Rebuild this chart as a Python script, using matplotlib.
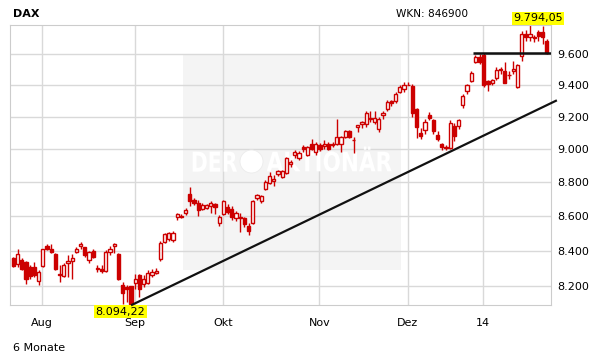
import numpy as np
import matplotlib
matplotlib.use('Agg')
import matplotlib.pyplot as plt
from matplotlib.patches import Rectangle, Ellipse, PathPatch
from matplotlib.textpath import TextPath
from matplotlib.font_manager import FontProperties
from matplotlib.transforms import Affine2D

# DAX daily candles, 6 months (trading days Jul 23 2013 .. Jan 23 2014)
opens = [8356, 8327, 8350, 8337, 8305, 8305, 8230, 8314, 8429, 8413,
         8384, 8271, 8256, 8330, 8340, 8394, 8427, 8419, 8346, 8400,
         8299, 8299, 8286, 8394, 8427, 8381, 8206, 8196, 8200, 8218,
         8262, 8212, 8220, 8262, 8276, 8352, 8450, 8465, 8461, 8598,
         8600, 8618, 8732, 8694, 8680, 8645, 8650, 8660, 8671, 8563,
         8614, 8652, 8645, 8588, 8598, 8588, 8543, 8562, 8705, 8688,
         8760, 8797, 8810, 8849, 8830, 8857, 8910, 8968, 8950, 9015,
         8965, 9030, 8982, 9027, 9020, 9031, 9028, 9035, 9035, 9076,
         9110, 9060, 9140, 9155, 9155, 9193, 9167, 9128, 9210, 9253,
         9298, 9300, 9357, 9375, 9405, 9394, 9250, 9098, 9117, 9215,
         9180, 9090, 9032, 9015, 9006, 9142, 9142, 9273, 9365, 9428,
         9551, 9585, 9594, 9428, 9415, 9447, 9496, 9490, 9467, 9490,
         9390, 9587, 9731, 9714, 9712, 9745, 9745, 9685]
highs = [8362, 8413, 8356, 8344, 8318, 8335, 8290, 8413, 8436, 8436,
         8390, 8318, 8330, 8375, 8381, 8421, 8452, 8421, 8400, 8409,
         8318, 8318, 8404, 8427, 8444, 8386, 8225, 8206, 8200, 8271,
         8271, 8262, 8290, 8296, 8300, 8455, 8500, 8510, 8512, 8616,
         8610, 8648, 8770, 8706, 8698, 8677, 8672, 8688, 8677, 8605,
         8694, 8670, 8660, 8630, 8618, 8598, 8558, 8694, 8730, 8726,
         8815, 8860, 8843, 8873, 8873, 8955, 8933, 8994, 8990, 9025,
         9020, 9064, 9045, 9040, 9060, 9045, 9045, 9190, 9080, 9118,
         9118, 9078, 9150, 9175, 9240, 9240, 9240, 9200, 9240, 9305,
         9305, 9355, 9400, 9420, 9420, 9406, 9255, 9130, 9190, 9230,
         9190, 9115, 9040, 9025, 9183, 9160, 9190, 9345, 9410, 9490,
         9594, 9600, 9607, 9432, 9440, 9520, 9520, 9552, 9490, 9560,
         9540, 9755, 9758, 9794.05, 9730, 9758, 9790, 9700]
lows = [8305, 8308, 8293, 8215, 8240, 8250, 8206, 8308, 8404, 8386,
        8293, 8224, 8250, 8252, 8238, 8386, 8413, 8364, 8329, 8358,
        8281, 8273, 8281, 8375, 8386, 8232, 8104, 8112, 8094.22, 8187,
        8142, 8195, 8210, 8250, 8268, 8340, 8444, 8455, 8452, 8577,
        8590, 8606, 8660, 8665, 8603, 8636, 8640, 8618, 8612, 8545,
        8606, 8612, 8577, 8571, 8508, 8535, 8490, 8555, 8694, 8680,
        8753, 8790, 8780, 8837, 8825, 8850, 8893, 8950, 8935, 8985,
        8960, 8994, 8965, 8990, 9005, 8994, 9015, 9025, 8985, 9070,
        9070, 8978, 9105, 9130, 9140, 9170, 9155, 9105, 9190, 9240,
        9270, 9290, 9350, 9360, 9400, 9200, 9070, 9065, 9093, 9180,
        9093, 9050, 8994, 8994, 9000, 9050, 9125, 9255, 9345, 9420,
        9545, 9540, 9390, 9365, 9405, 9432, 9470, 9413, 9440, 9475,
        9385, 9560, 9690, 9690, 9680, 9690, 9670, 9600]
closes = [8312, 8381, 8298, 8243, 8256, 8262, 8277, 8409, 8409, 8394,
          8298, 8262, 8318, 8342, 8356, 8413, 8438, 8375, 8394, 8366,
          8301, 8286, 8394, 8413, 8436, 8243, 8160, 8187, 8104, 8243,
          8182, 8240, 8275, 8280, 8284, 8446, 8495, 8500, 8505, 8610,
          8595, 8636, 8690, 8675, 8636, 8665, 8665, 8677, 8656, 8595,
          8690, 8626, 8596, 8620, 8588, 8552, 8514, 8688, 8724, 8720,
          8803, 8837, 8818, 8867, 8867, 8945, 8925, 8984, 8978, 9005,
          9015, 9005, 9031, 9005, 9030, 9005, 9033, 9075, 9075, 9110,
          9076, 9056, 9148, 9170, 9225, 9190, 9194, 9190, 9222, 9295,
          9285, 9345, 9390, 9405, 9403, 9222, 9140, 9080, 9167, 9192,
          9110, 9066, 9015, 9006, 9160, 9080, 9180, 9330, 9400, 9480,
          9582, 9552, 9400, 9406, 9432, 9500, 9506, 9417, 9464, 9506,
          9529, 9731, 9714, 9731, 9705, 9718, 9714, 9610]

month_labels = ['Aug', 'Sep', 'Okt', 'Nov', 'Dez', '14']
month_days = [7, 22, 21, 23, 21, 18, 16]   # trading days: Jul (part), Aug .. Jan
y_ticks = [8200, 8400, 8600, 8800, 9000, 9200, 9400, 9600]
resistance = 9610
trend_end = (129.4, 9305)

RED = '#cc0000'
GRID = '#d9d9d9'
W, H = 611, 364


def de_num(v, dec=0):
    s = f"{v:,.{dec}f}"
    return s.replace(',', 'X').replace('.', ',').replace('X', '.')


fig = plt.figure(figsize=(W / 100, H / 100), dpi=100)
ax = fig.add_axes([10.3 / W, 1 - 305.3 / H, 540.4 / W, 280.3 / H])

o = np.array(opens, float)
h = np.array(highs, float)
l = np.array(lows, float)
c = np.array(closes, float)
x = np.arange(len(o))
lo_i, hi_i = int(np.argmin(l)), int(np.argmax(h))

ax.set_yscale('log')
ax.set_ylim(l.min(), h.max())
ax.set_xlim(-0.74, len(o) - 0.07)

# grid
for yt in y_ticks:
    ax.axhline(yt, color=GRID, lw=1, zorder=1)
starts = np.cumsum(month_days)[:-1] - 0.15
for xs in starts:
    ax.axvline(xs, color=GRID, lw=1, zorder=1)

# watermark box + logo text
ax.add_patch(Rectangle((0.3196, 0.126), 0.403, 0.77, transform=ax.transAxes,
                       facecolor='#f4f4f4', edgecolor='none', zorder=0.8))


def fit_text(s, x0, x1, y0, y1):
    tp = TextPath((0, 0), s, size=10, prop=FontProperties(family='DejaVu Sans', weight='bold'))
    bb = tp.get_extents()
    tr = (Affine2D().translate(-bb.x0, -bb.y0)
          .scale((x1 - x0) / bb.width / W, (y1 - y0) / bb.height / H)
          .translate(x0 / W, 1 - y1 / H) + fig.transFigure)
    ax.add_patch(PathPatch(tp, transform=tr, facecolor='white', edgecolor='none', zorder=1.5))


fit_text('DER', 192.7, 237, 151.7, 171.7)
fit_text('AKTIONÄR', 266.7, 391.7, 146.5, 171.7)
ax.add_patch(Ellipse((251.5 / W, 1 - 161.5 / H), 23 / W, 23 / H, transform=fig.transFigure,
                     facecolor='white', edgecolor='#ececec', lw=0.6, zorder=1.5))

# candles
up = c >= o
ax.vlines(x, l, h, color=RED, lw=1, zorder=2)
ax.bar(x, np.maximum(c, o) - np.minimum(c, o), bottom=np.minimum(c, o), width=0.72,
       color=np.where(up, 'white', RED), edgecolor=RED, linewidth=1.0, zorder=3)

# trend line and resistance
ax.plot([lo_i, trend_end[0]], [l[lo_i], trend_end[1]], color='#111111', lw=1.6,
        zorder=4, clip_on=False, solid_capstyle='butt')
ax.plot([109.4, len(o) - 0.07], [resistance, resistance], color='#111111', lw=1.8,
        zorder=4, solid_capstyle='butt')

# axes styling
for sp in ax.spines.values():
    sp.set_color('#cccccc')
    sp.set_linewidth(0.8)
ax.yaxis.tick_right()
ax.set_yticks(y_ticks)
ax.set_yticklabels([de_num(v) for v in y_ticks])
ax.yaxis.set_minor_locator(matplotlib.ticker.NullLocator())
ax.set_xticks(starts)
ax.set_xticklabels(month_labels)
ax.tick_params(axis='both', length=0, labelsize=8, colors='black')
ax.tick_params(axis='y', pad=5)
ax.tick_params(axis='x', pad=9)

# min / max labels
box = dict(boxstyle='square,pad=0.12', fc='#ffff00', ec='none')
ax.annotate(de_num(h[hi_i], 2), xy=(hi_i, 1.0), xycoords=('data', 'axes fraction'),
            xytext=(5.8, 4.7), textcoords='offset points', ha='center', va='center',
            fontsize=8, bbox=box, annotation_clip=False)
ax.annotate(de_num(l[lo_i], 2), xy=(lo_i, 0.0), xycoords=('data', 'axes fraction'),
            xytext=(-7.6, -4.6), textcoords='offset points', ha='center', va='center',
            fontsize=8, bbox=box, annotation_clip=False)

fig.text(12.5 / W, 1 - 16.7 / H, 'DAX', fontsize=8, fontweight='bold', va='baseline')
fig.text(468 / W, 1 - 17.3 / H, 'WKN: 846900', fontsize=7.6, ha='right', va='baseline')
fig.text(12.5 / W, 1 - 350.7 / H, '6 Monate', fontsize=8, va='baseline')

fig.savefig('out.png', dpi=100)
